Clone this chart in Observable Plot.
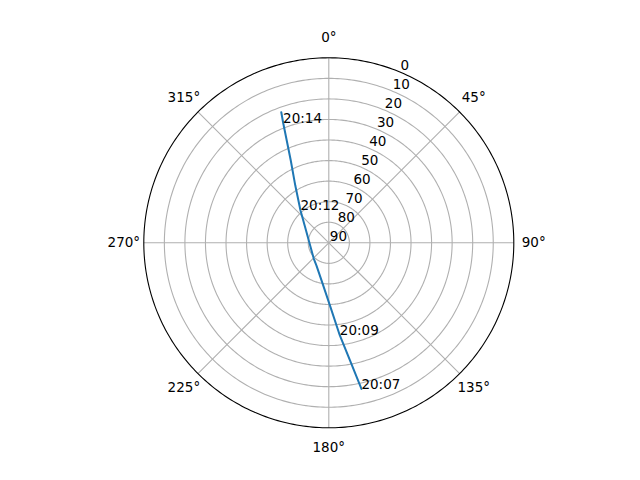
<!DOCTYPE html>
<html><head><meta charset="utf-8">
<script src="https://cdn.jsdelivr.net/npm/d3@7"></script>
<script src="https://cdn.jsdelivr.net/npm/@observablehq/plot@0.6"></script>
<style>body{margin:0;background:#fff} #chart{width:640px;height:480px}</style>
</head><body><div id="chart"></div>
<script>
// Satellite pass track (azimuth in degrees clockwise from north, elevation in degrees)
const trackAzimuth   = [167.4, 169.6, 173.2, 178.5, 190.8, 208.4, 223.7, 254.5, 301.5, 318.8, 335.2, 339.2, 340.0];
const trackElevation = [17.2, 31.0, 44.6, 58.7, 71.3, 77.4, 79.4, 80.9, 76.7, 69.1, 45.9, 27.4, 22.4];
const timeLabels = ["20:07", "20:09", "20:12", "20:14"];
const timeLabelAzimuth = [167.4, 173.2, 318.8, 339.2];
const timeLabelElevation = [17.2, 44.6, 69.1, 27.4];
const angleTicks = [0, 45, 90, 135, 180, 225, 270, 315];
const angleTickLabels = ["0°", "45°", "90°", "135°", "180°", "225°", "270°", "315°"];
const radialTicks = [0, 10, 20, 30, 40, 50, 60, 70, 80, 90];
const radialTickLabels = ["0", "10", "20", "30", "40", "50", "60", "70", "80", "90"];
const gridRings = [10, 20, 30, 40, 50, 60, 70, 80];
const radialLabelAzimuth = 22.5;
const angleLabelElevation = -9.7;

const lon = az => 180 - az;
const track = trackAzimuth.map((az, i) => ({az, el: trackElevation[i]}));
const timeData = timeLabels.map((t, i) => ({t, az: timeLabelAzimuth[i], el: timeLabelElevation[i]}));
const angleData = angleTicks.map((a, i) => ({a, label: angleTickLabels[i]}));
const radialData = radialTicks.map((r, i) => ({r, label: radialTickLabels[i]}));
const circle = el => d3.geoCircle().center([0, 90]).radius(90 - el).precision(1)();

const plot = Plot.plot({
  width: 640, height: 480,
  marginLeft: 143.3, marginRight: 126.7, marginTop: 57.3, marginBottom: 52.7,
  projection: {
    type: "azimuthal-equidistant",
    rotate: [0, -90],
    domain: d3.geoCircle().center([0, 90]).radius(90)(),
    clip: false
  },
  style: {fontFamily: "'DejaVu Sans', sans-serif", fontSize: "13.5px", background: "white", color: "black"},
  marks: [
    Plot.geo(gridRings, {geometry: el => circle(el), stroke: "#b0b0b0", strokeWidth: 1.1, fill: "none"}),
    Plot.link(angleTicks, {x1: d => lon(d), y1: () => 90, x2: d => lon(d), y2: () => 0, stroke: "#b0b0b0", strokeWidth: 1.1}),
    Plot.line(track, {x: d => lon(d.az), y: "el", stroke: "#1f77b4", strokeWidth: 2}),
    Plot.geo([0], {geometry: el => circle(el), stroke: "black", strokeWidth: 1.1, fill: "none"}),
    Plot.text(angleData, {x: d => lon(d.a), y: () => angleLabelElevation, text: "label", textAnchor: "middle", lineAnchor: "middle", fill: "black"}),
    Plot.text(radialData, {x: () => lon(radialLabelAzimuth), y: "r", text: "label", textAnchor: "start", lineAnchor: "bottom", dx: 1, dy: -2, fill: "black"}),
    Plot.text(timeData, {x: d => lon(d.az), y: "el", text: "t", textAnchor: "start", lineAnchor: "bottom", fill: "black"})
  ]
});
document.getElementById("chart").appendChild(plot);
</script>
</body></html>
